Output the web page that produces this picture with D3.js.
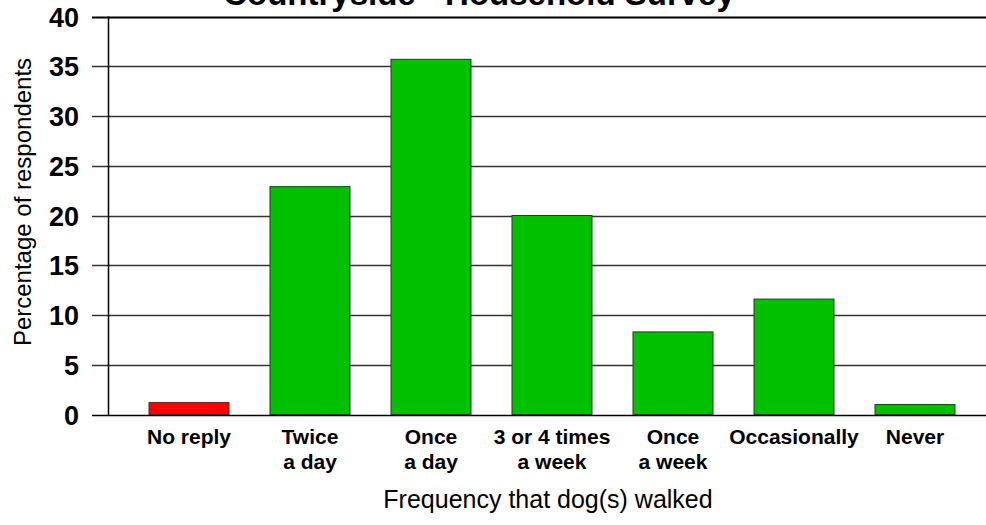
<!DOCTYPE html>
<html>
<head>
<meta charset="utf-8">
<script src="https://cdn.jsdelivr.net/npm/d3@7"></script>
<style>
  body { margin: 0; background: #fff; }
  svg text { font-family: Arial, "Liberation Sans", sans-serif; fill: #000; }
</style>
</head>
<body>
<div id="chart"></div>
<script>
// values
var categories = ["No reply", "Twice a day", "Once a day", "3 or 4 times a week", "Once a week", "Occasionally", "Never"];
var labelLines = [["No reply"], ["Twice", "a day"], ["Once", "a day"], ["3 or 4 times", "a week"], ["Once", "a week"], ["Occasionally"], ["Never"]];
var percents = [1.2, 22.9, 35.7, 20.0, 8.3, 11.6, 1.0];
var yTicks = [0, 5, 10, 15, 20, 25, 30, 35, 40];

var W = 986, H = 525;
var plotLeft = 108, plotTop = 16.5, plotBottom = 414.5;

var svg = d3.select("#chart").append("svg")
    .attr("width", W)
    .attr("height", H);

var y = d3.scaleLinear().domain([0, 40]).range([plotBottom, plotTop]);

// step 121, bar 80 wide
var x = d3.scaleBand()
    .domain(categories)
    .range([128.5, 975.5])
    .paddingInner(41 / 121)
    .paddingOuter(41 / 242);

// gridlines (run through the tick marks to the right edge)
svg.append("g").selectAll("line")
    .data(yTicks)
    .enter()
    .append("line")
    .attr("x1", 92)
    .attr("x2", W)
    .attr("y1", function(d) { return Math.round(y(d)) + 0.5; })
    .attr("y2", function(d) { return Math.round(y(d)) + 0.5; })
    .attr("stroke", function(d) { return d == 40 || d == 0 ? "#000" : "#333"; })
    .attr("stroke-width", function(d) { return d == 40 ? 2 : 1.5; });

// y axis labels
var yAxis = d3.axisLeft(y).tickValues(yTicks).tickSize(0).tickPadding(0);
var gy = svg.append("g")
    .attr("transform", "translate(79,0)")
    .call(yAxis);
gy.select(".domain").remove();
gy.selectAll("text")
    .attr("dy", "0.36em")
    .style("font-size", "27px")
    .style("font-weight", "bold")
    .style("font-family", "Arial, 'Liberation Sans', sans-serif");

// bars
svg.append("g").selectAll("rect")
    .data(percents)
    .enter()
    .append("rect")
    .attr("x", function(d, i) { return x(categories[i]); })
    .attr("y", function(d) { return y(d); })
    .attr("width", x.bandwidth())
    .attr("height", function(d) { return y(0) - y(d); })
    .attr("fill", function(d, i) { return i == 0 ? "#ff0000" : "#00c000"; })
    .attr("stroke", "#333")
    .attr("stroke-width", 1);

// y axis line
svg.append("line")
    .attr("x1", plotLeft + 0.5).attr("x2", plotLeft + 0.5)
    .attr("y1", plotTop).attr("y2", plotBottom + 1)
    .attr("stroke", "#000")
    .attr("stroke-width", 1.5);

// x category labels
var xl = svg.append("g").selectAll("text")
    .data(labelLines)
    .enter()
    .append("text")
    .attr("x", function(d, i) { return x(categories[i]) + x.bandwidth() / 2; })
    .attr("y", 444)
    .attr("text-anchor", "middle")
    .style("font-size", "21px")
    .style("font-weight", "bold");
xl.each(function(lines) {
    var t = d3.select(this);
    lines.forEach(function(l, k) {
        t.append("tspan")
            .attr("x", t.attr("x"))
            .attr("dy", k == 0 ? 0 : 25)
            .text(l);
    });
});

// axis titles
svg.append("text")
    .attr("transform", "translate(31,202) rotate(-90)")
    .attr("text-anchor", "middle")
    .style("font-size", "24px")
    .text("Percentage of respondents");

svg.append("text")
    .attr("x", 548)
    .attr("y", 508)
    .attr("text-anchor", "middle")
    .style("font-size", "25px")
    .text("Frequency that dog(s) walked");

// title, partly cut off at the top
svg.append("text")
    .attr("x", 479)
    .attr("y", 5)
    .attr("text-anchor", "middle")
    .style("font-size", "33px")
    .style("font-weight", "bold")
    .text("Countryside - Household Survey");
</script>
</body>
</html>
